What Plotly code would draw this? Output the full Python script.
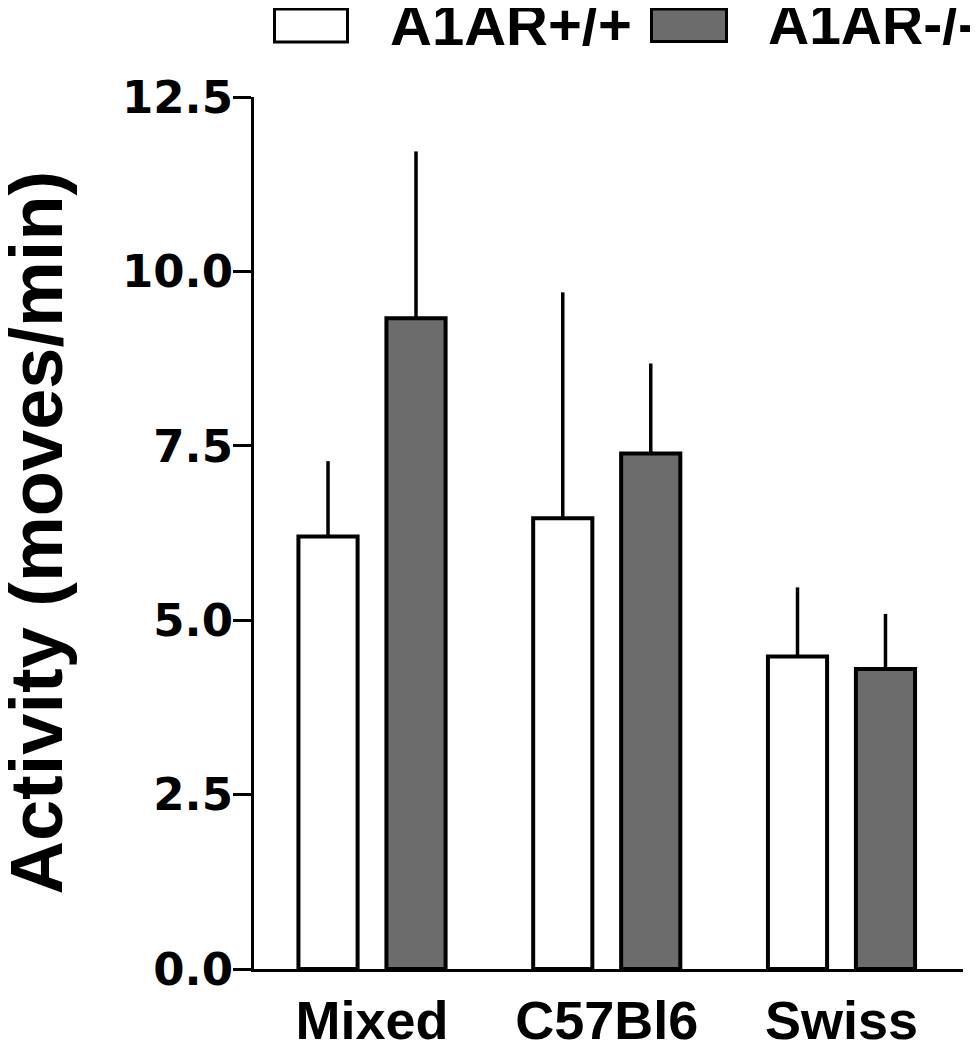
import plotly.graph_objects as go

# ---- data ----
categories = ["Mixed", "C57Bl6", "Swiss"]
series_names = ["A1AR+/+", "A1AR-/-"]
wt_mean = [6.20, 6.46, 4.48]
wt_err = [1.08, 3.24, 0.99]
ko_mean = [9.33, 7.39, 4.30]
ko_err = [2.39, 1.29, 0.79]
y_tickvals = [0, 2.5, 5, 7.5, 10, 12.5]
y_ticktext = ["0.0", "2.5", "5.0", "7.5", "10.0", "12.5"]
y_title = "Activity (moves/min)"

# ---- layout geometry ----
# The page body has an 8px margin, so the figure is sized to fill the rest
OFF = 8
W, H = 978 - OFF, 1050 - OFF
L, R, T, B = 246, 15, 89, 81
pw = W - L - R
ph = H - T - B


def px(xpage):
    return (xpage - OFF - L) / pw


def py(ypage):
    return (T + ph - (ypage - OFF)) / ph


colors = ["white", "#6c6c6c"]
bw = 0.252
half = 0.1874
ARIAL = "Liberation Sans, Arial, sans-serif"

fig = go.Figure()
for i, (means, errs) in enumerate([(wt_mean, wt_err), (ko_mean, ko_err)]):
    fig.add_trace(go.Bar(
        x=categories, y=means, name=series_names[i],
        width=bw, offset=(-half if i == 0 else half) - bw / 2,
        marker=dict(color=colors[i], line=dict(color="black", width=4)),
        error_y=dict(type="data", symmetric=False, array=errs,
                     arrayminus=[0] * len(errs), width=0, thickness=3.5,
                     color="black"),
        showlegend=False,
    ))

fig.update_layout(
    width=W, height=H,
    margin=dict(l=L, r=R, t=T, b=B, pad=0, autoexpand=False),
    paper_bgcolor="white", plot_bgcolor="white",
    barmode="overlay",
    xaxis=dict(type="category", range=[-0.5027, 2.5176], showline=True,
               linewidth=3, linecolor="black", ticks="", showgrid=False,
               zeroline=False, ticklabelstandoff=2, automargin=False,
               tickfont=dict(family=ARIAL, size=54, color="black", weight=700)),
    yaxis=dict(range=[0, 12.5], tickvals=y_tickvals, ticktext=y_ticktext,
               ticks="outside", ticklen=18, tickwidth=3, tickcolor="black",
               showline=True, linewidth=3, linecolor="black", showgrid=False,
               zeroline=False, ticklabelstandoff=-9, automargin=False,
               tickfont=dict(family="DejaVu Sans", size=45, color="black",
                             weight=700)),
)

# y-axis title
fig.add_annotation(
    text=y_title, textangle=-90, xref="paper", yref="paper",
    x=px(-8), y=0.5, xanchor="left", yanchor="middle", showarrow=False,
    font=dict(family=ARIAL, size=74, color="black", weight=700),
)

# legend (custom, large swatches)
swatches = [(274.5, 347.5, 9, 42), (651.5, 726.5, 9, 41.5)]
text_x = [388, 766]
text_size = [58, 57]
for i in range(2):
    x0, x1, y0, y1 = swatches[i]
    fig.add_shape(type="rect", xref="paper", yref="paper",
                  x0=px(x0), x1=px(x1), y0=py(y1), y1=py(y0),
                  fillcolor=colors[i], line=dict(color="black", width=3))
    fig.add_annotation(
        text=series_names[i], xref="paper", yref="paper",
        x=px(text_x[i]), y=py(24.5), xanchor="left", yanchor="middle",
        showarrow=False,
        font=dict(family=ARIAL, size=text_size[i], color="black", weight=700),
    )

fig.write_html("out.html")
